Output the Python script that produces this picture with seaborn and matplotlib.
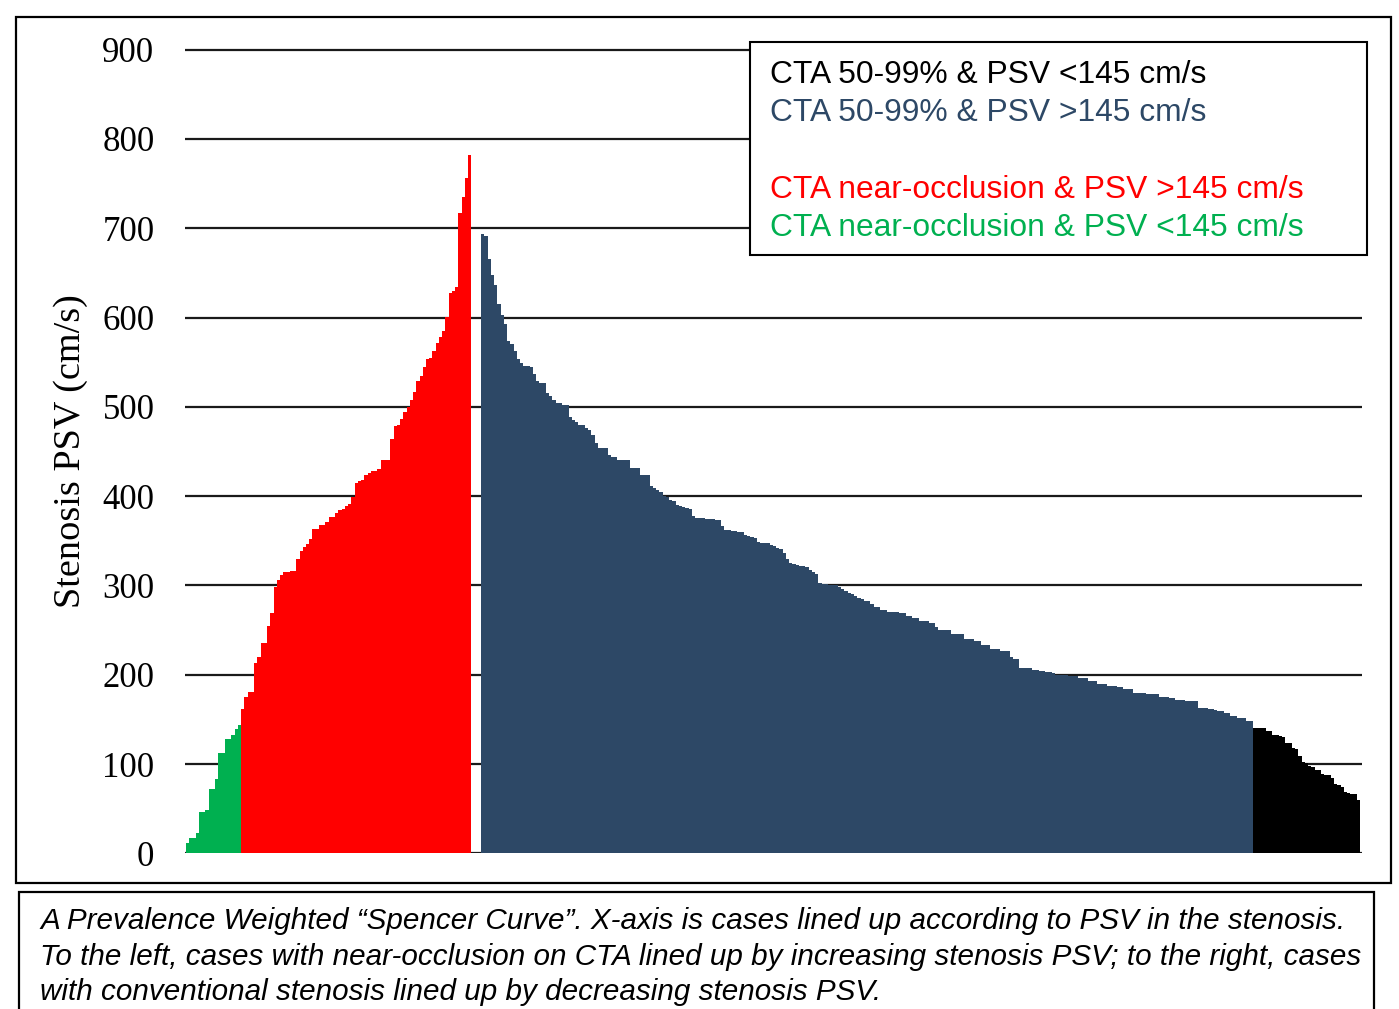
import matplotlib
matplotlib.use("Agg")
import matplotlib.pyplot as plt
import numpy as np
import pandas as pd
import seaborn as sns
from matplotlib.patches import Rectangle

# Stenosis PSV (cm/s) per case left to right
green_psv = [11, 17, 17, 23, 46, 46, 49, 72, 72, 83, 112, 112, 128, 128, 133, 139, 144]

red_psv = [162, 175, 181, 181, 213, 220, 236, 236, 254, 269, 298, 306, 312, 315, 315, 316, 316,
           330, 339, 343, 346, 352, 363, 363, 368, 368, 371, 377, 377, 381, 384, 386, 389, 391,
           399, 415, 417, 418, 424, 426, 428, 428, 430, 440, 441, 441, 464, 478, 480, 486, 494,
           500, 508, 517, 529, 535, 545, 553, 555, 563, 572, 578, 585, 601, 627, 630, 634, 717,
           735, 756, 782]

navy_psv = [694, 691, 666, 648, 636, 615, 603, 593, 574, 570, 562, 553, 549, 546, 546, 545, 537,
            529, 527, 527, 516, 512, 508, 504, 504, 502, 502, 489, 485, 483, 480, 480, 476, 474,
            468, 460, 454, 454, 454, 446, 444, 444, 441, 441, 440, 440, 431, 431, 431,
            424, 424, 424, 411, 409, 407, 405, 400, 399, 396, 395, 390, 389, 388, 387, 386,
            378, 376, 375, 375, 374, 374, 374, 373, 373, 366, 362, 362, 361, 361, 360, 360,
            356, 355, 354, 353, 349, 348, 348, 347, 345, 344, 342, 341, 336, 330,
            325, 324, 323, 322, 322, 321, 317, 315, 313, 303, 302, 302, 301, 301, 300,
            298, 296, 294, 292, 290, 288, 286, 285, 283,
            282, 279, 276, 276, 272, 272, 270, 270, 270, 270, 269, 269, 266, 266, 263, 263,
            260, 260, 260, 258, 258, 253, 250, 250, 250, 250, 246, 246, 246, 246, 240, 240, 240,
            238, 238, 233, 233, 233, 229, 229, 229, 226, 226, 226, 220, 218, 218,
            208, 208, 208, 208, 205, 205, 204, 204, 203, 203, 202, 200, 200, 200, 200,
            198, 198, 198, 196, 196, 196, 193, 193, 193, 190, 190, 190, 187, 187, 187,
            186, 186, 184, 184, 184, 180, 180, 180, 180, 178, 178, 178, 178, 175, 175, 175,
            174, 174, 172, 172, 172, 170, 170, 170, 170, 163, 163, 163, 162, 162, 161,
            159, 159, 157, 157, 154, 154, 152, 152, 152, 148, 148]

black_psv = [140, 140, 140, 140, 137, 137, 133, 133, 131, 130, 123, 123, 118, 117, 109, 102, 101,
             98, 97, 93, 93, 89, 88, 88, 84, 78, 77, 74, 69, 68, 66, 66, 60]

group_names = ["near_low", "near_high", "conv_high", "conv_low"]
group_colors = ["#00B050", "#FF0000", "#2D4866", "#000000"]

legend_lines = ["CTA 50-99% & PSV <145 cm/s",
                "CTA 50-99% & PSV >145 cm/s",
                "CTA near-occlusion & PSV >145 cm/s",
                "CTA near-occlusion & PSV <145 cm/s"]
legend_colors = ["#000000", "#2D4866", "#FF0000", "#00B050"]

caption_lines = ["A Prevalence Weighted \u201cSpencer Curve\u201d. X-axis is cases lined up according to PSV in the stenosis.",
                 "To the left, cases with near-occlusion on CTA lined up by increasing stenosis PSV; to the right, cases",
                 "with conventional stenosis lined up by decreasing stenosis PSV."]

y_ticks = [0, 100, 200, 300, 400, 500, 600, 700, 800, 900]

# build one table, leaving a small gap between the near-occlusion and conventional cases
gap = 3
parts = [green_psv, red_psv, navy_psv, black_psv]
rows = []
pos = 0
for i, (name, vals) in enumerate(zip(group_names, parts)):
    if i == 2:
        pos += gap
    for v in vals:
        rows.append((pos, v, name))
        pos += 1
df = pd.DataFrame(rows, columns=["case", "psv", "group"])
n_pos = pos

W, H = 1399, 1009
fig = plt.figure(figsize=(W / 100, H / 100), dpi=100)


def fx(x):
    return x / W


def fy(y):
    return 1 - y / H


# axes placed in pixel terms of the reference
y0_px, ytop_px, ymax = 853.3, 40.7, 910
ax = fig.add_axes([fx(185), fy(y0_px), (1362 - 185) / W, (y0_px - ytop_px) / H])

sns.barplot(data=df, x="case", y="psv", hue="group", hue_order=group_names,
            palette=dict(zip(group_names, group_colors)), native_scale=True, width=1.0,
            dodge=False, legend=False, saturation=1, errorbar=None, ax=ax)
for p in ax.patches:
    p.set_linewidth(0)
    p.set_antialiased(False)

bar_px = (1360 - 186) / n_pos
ax.set_xlim(-0.5 - 1 / bar_px, n_pos - 0.5 + 2 / bar_px)
ax.set_ylim(0, ymax)
ax.set_yticks(y_ticks)
ax.set_yticklabels([str(t) for t in y_ticks], family="Liberation Serif", fontsize=25)
ax.set_xticks([])
ax.set_xlabel("")
ax.yaxis.grid(True, color="#1a1a1a", linewidth=1.6)
ax.set_axisbelow(True)
ax.tick_params(axis="y", length=0, pad=22)
for s in ax.spines.values():
    s.set_visible(False)
ax.set_ylabel("Stenosis PSV (cm/s)", family="Liberation Serif", fontsize=27.5)
ax.yaxis.set_label_coords((88 - 185) / (1362 - 185), (y0_px - 451) / (y0_px - ytop_px))

# chart frame and caption frame
fig.patches.append(Rectangle((fx(16), fy(883)), (1391 - 16) / W, (883 - 17) / H,
                             transform=fig.transFigure, fill=False, edgecolor="black",
                             linewidth=1.6, zorder=5))
fig.patches.append(Rectangle((fx(19), fy(1020)), (1374 - 19) / W, (1020 - 892) / H,
                             transform=fig.transFigure, fill=False, edgecolor="black",
                             linewidth=1.6, zorder=5))

# legend box drawn as plain text over a white panel
fig.patches.append(Rectangle((fx(750), fy(255)), (1367 - 750) / W, (255 - 42) / H,
                             transform=fig.transFigure, facecolor="white", edgecolor="black",
                             linewidth=1.5, zorder=5))

renderer = fig.canvas.get_renderer()


def text_width(text, **kw):
    t = fig.text(0, 0, text, fontsize=20, **kw)
    w = t.get_window_extent(renderer).width
    t.remove()
    return w


leg_size = 20 * 437 / text_width(legend_lines[0], family="Liberation Sans")
for txt, col, yy in zip(legend_lines, legend_colors, [75, 113, 190, 228]):
    fig.text(fx(770), fy(yy), txt, color=col, fontsize=leg_size, family="Liberation Sans",
             va="center", ha="left", zorder=6)

cap_w = max(text_width(t, family="Liberation Sans", style="italic") for t in caption_lines)
cap_size = 20 * 1317 / cap_w
for txt, yy in zip(caption_lines, [921, 957, 992]):
    fig.text(fx(40), fy(yy), txt, fontsize=cap_size, family="Liberation Sans", style="italic",
             va="center", ha="left", zorder=6)

fig.savefig("out.png", dpi=100)
